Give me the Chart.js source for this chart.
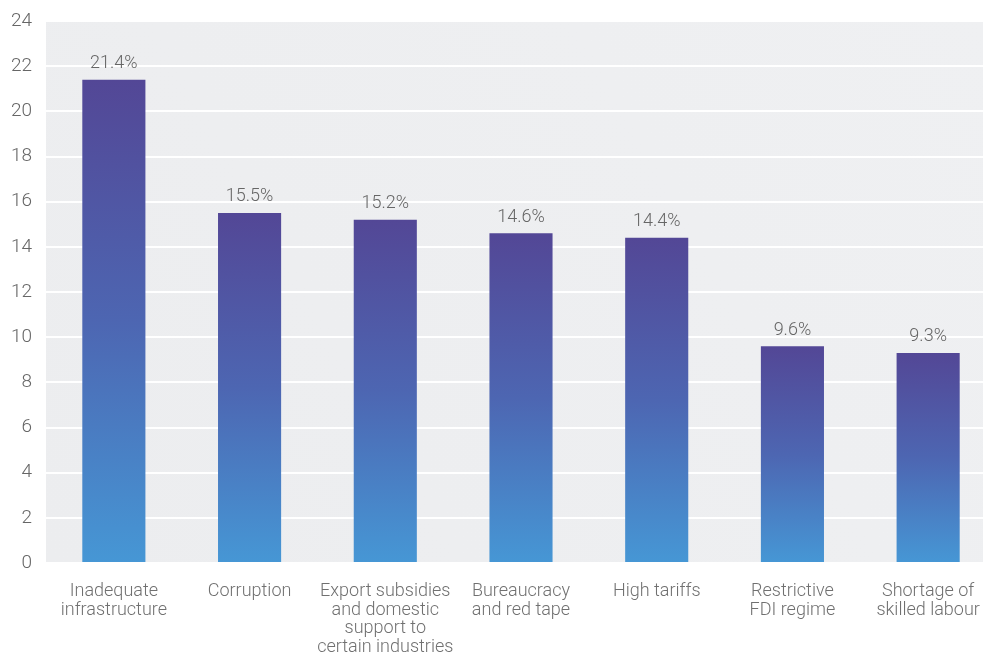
<!DOCTYPE html>
<html>
<head>
<meta charset="utf-8">
<script src="https://cdn.jsdelivr.net/npm/chart.js@4"></script>
<style>
  body { margin: 0; background: #fff; overflow: hidden; }
  #wrap { width: 983px; height: 654px; overflow: hidden; }
</style>
</head>
<body>
<div id="wrap"><canvas id="barrierChart" width="996" height="654"></canvas></div>
<script>
// Barriers data
const categories = [
  ['Inadequate', 'infrastructure'],
  'Corruption',
  ['Export subsidies', 'and domestic', 'support to', 'certain industries'],
  ['Bureaucracy', 'and red tape'],
  'High tariffs',
  ['Restrictive', 'FDI regime'],
  ['Shortage of', 'skilled labour']
];
const shares = [21.4, 15.5, 15.2, 14.6, 14.4, 9.6, 9.3];
const yTicks = [0, 2, 4, 6, 8, 10, 12, 14, 16, 18, 20, 22, 24];

const FONT = 'Roboto, "DejaVu Sans", sans-serif';

// grey plot background
const plotBg = {
  id: 'plotBg',
  beforeDraw(chart) {
    const { ctx, chartArea: a } = chart;
    ctx.save();
    const g = ctx.createLinearGradient(a.left, a.bottom, a.right, a.top);
    g.addColorStop(0, '#ecedef');
    g.addColorStop(1, '#eff0f2');
    ctx.fillStyle = g;
    ctx.fillRect(a.left, a.top, a.right - a.left, a.bottom - a.top);
    ctx.restore();
  }
};

// value labels above bars
const valueLabels = {
  id: 'valueLabels',
  afterDatasetsDraw(chart) {
    const { ctx } = chart;
    const meta = chart.getDatasetMeta(0);
    ctx.save();
    ctx.font = '300 18px ' + FONT;
    ctx.fillStyle = '#666666';
    ctx.textAlign = 'center';
    ctx.textBaseline = 'bottom';
    meta.data.forEach((bar, i) => {
      ctx.fillText(shares[i].toFixed(1) + '%', bar.x, bar.y - 7);
    });
    ctx.restore();
  }
};

function barGradient(context) {
  const chart = context.chart;
  const area = chart.chartArea;
  if (!area || !chart.scales.y) return '#4e6ab5';
  const v = context.raw;
  const top = chart.scales.y.getPixelForValue(v);
  const bottom = chart.scales.y.getPixelForValue(0);
  const g = chart.ctx.createLinearGradient(0, top, 0, bottom);
  g.addColorStop(0, '#534796');
  g.addColorStop(0.5, '#4d66b2');
  g.addColorStop(1, '#4697d5');
  return g;
}

new Chart(document.getElementById('barrierChart').getContext('2d'), {
  type: 'bar',
  data: {
    labels: categories,
    datasets: [{
      data: shares,
      backgroundColor: barGradient,
      borderWidth: 0,
      barPercentage: 0.465,
      categoryPercentage: 1
    }]
  },
  options: {
    responsive: false,
    animation: false,
    layout: { padding: { top: 0, right: 0, left: 11, bottom: 0 } },
    plugins: {
      legend: { display: false },
      tooltip: { enabled: false }
    },
    scales: {
      x: {
        afterFit(scale) { scale.height = 91; scale.paddingLeft = 0; scale.paddingRight = 0; },
        grid: { display: false, drawTicks: false },
        border: { display: false },
        ticks: {
          color: '#707070',
          font: { family: FONT, size: 18, weight: 300, lineHeight: 1.04 },
          padding: 19,
          maxRotation: 0,
          autoSkip: false
        }
      },
      y: {
        min: 0,
        max: 24,
        afterBuildTicks(axis) {
          axis.ticks = yTicks.map(v => ({ value: v }));
        },
        afterFit(scale) { scale.width = 35; scale.paddingTop = 21; },
        grid: { color: '#ffffff', lineWidth: 2, drawTicks: false },
        border: { display: false },
        ticks: {
          color: '#666666',
          font: { family: FONT, size: 19, weight: 300 },
          padding: 14
        }
      }
    }
  },
  plugins: [plotBg, valueLabels]
});
</script>
</body>
</html>
